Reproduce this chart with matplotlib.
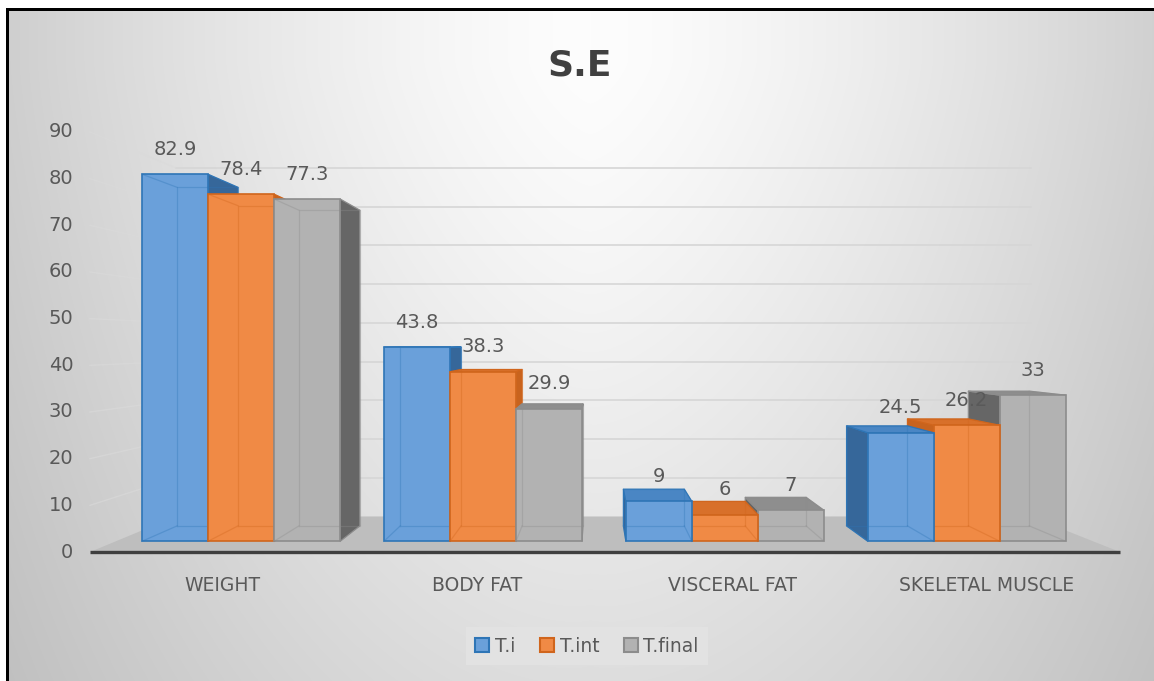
import numpy as np
import matplotlib
matplotlib.use('Agg')
import matplotlib.pyplot as plt
from matplotlib.patches import Polygon, Patch

categories = ['WEIGHT', 'BODY FAT', 'VISCERAL FAT', 'SKELETAL MUSCLE']
series_names = ['T.i', 'T.int', 'T.final']
t_i = [82.9, 43.8, 9, 24.5]
t_int = [78.4, 38.3, 6, 26.2]
t_final = [77.3, 29.9, 7, 33]
y_ticks = [0, 10, 20, 30, 40, 50, 60, 70, 80, 90]

# face colours per series: front, side, top, edge
front_colors = ['#6AA0DA', '#F08A45', '#B2B2B2']
side_colors = ['#36679A', '#C8631E', '#666666']
top_colors = ['#4A86C4', '#D8702A', '#8E8E8E']
edge_colors = ['#2E75B6', '#D0651C', '#8C8C8C']
text_color = '#595959'

W, H = 1154, 681
fig = plt.figure(figsize=(W / 100, H / 100), dpi=100)
fig.patch.set_facecolor('white')

# soft grey gradient behind the chart, with a thin black frame on top/left
bg = fig.add_axes([0, 0, 1, 1])
bg.set_axis_off()
xx, yy = np.meshgrid(np.arange(W), np.arange(H))
dx = np.abs(xx - 590) / 580
dy = np.clip((yy - 60) / 620, 0, None)
shade = (253 - 46 * dx ** 1.4 - 32 * dy ** 1.3 * (1 - 0.55 * dx)) / 255
shade[(xx < 6) | (yy < 8)] = 1.0
shade[((xx >= 6) & (xx < 9) & (yy >= 8)) | ((yy >= 8) & (yy < 11) & (xx >= 6))] = 0.0
bg.imshow(np.dstack([shade] * 3), extent=(0, W, H, 0), aspect='auto')
bg.set_xlim(0, W)
bg.set_ylim(H, 0)

# main axes: x in category units, y in value units on the front plane
PX_CAT, X0_PX = 255, 222
Y0_PX, PX_VAL = 552, 4.667
ax = fig.add_axes([0, 0, 1, 1])
ax.set_axis_off()
ax.patch.set_alpha(0)
ax.set_xlim(-X0_PX / PX_CAT, (W - X0_PX) / PX_CAT)
ax.set_ylim((Y0_PX - H) / PX_VAL, Y0_PX / PX_VAL)

# perspective: vanishing point and depth scale factors
VX = (594 - X0_PX) / PX_CAT
VY = (Y0_PX - 343) / PX_VAL
S_WALL = 0.83
S_BAR_F = 0.9486
S_BAR_B = 0.875
FLOOR_L = (90 - X0_PX) / PX_CAT
FLOOR_R = (1120 - X0_PX) / PX_CAT
BAR_W = 0.273


def proj(x, v, s):
    return VX + (x - VX) * s, VY + (v - VY) * s


# back wall and side wall gridlines
for v in y_ticks[1:]:
    bl = proj(FLOOR_L, v, S_WALL)
    br = proj(FLOOR_R, v, S_WALL)
    fl = proj(FLOOR_L, v, 1)
    ax.plot([bl[0], br[0]], [bl[1], br[1]], color='#D6D6D6', lw=1.2, zorder=1)
    ax.plot([fl[0], bl[0]], [fl[1], bl[1]], color='#DADADA', lw=1.0, alpha=0.6, zorder=1)

# floor
floor = Polygon([proj(FLOOR_L, 0, 1), proj(FLOOR_R, 0, 1),
                 proj(FLOOR_R, 0, S_WALL), proj(FLOOR_L, 0, S_WALL)],
                closed=True, facecolor='#BEBEBE', edgecolor='none', zorder=2)
ax.add_patch(floor)
ax.plot([FLOOR_L, FLOOR_R], [0, 0], color='#3F3F3F', lw=2.4, zorder=3,
        solid_capstyle='butt')

# y tick labels on the front left edge
for v in y_ticks:
    ax.annotate(str(v), xy=proj(FLOOR_L, v, 1), xytext=(-12, 0),
                textcoords='offset points', ha='right', va='center',
                fontsize=14, color=text_color)

# category labels
for i, name in enumerate(categories):
    ax.annotate(name, xy=proj(i, 0, 1), xytext=(0, -24),
                textcoords='offset points', ha='center', va='center',
                fontsize=13.5, color=text_color)

# 3D columns, drawn from the farthest (relative to vanishing point) inwards
bars = []
for j, vals in enumerate([t_i, t_int, t_final]):
    for i, v in enumerate(vals):
        xc = i + (j - 1) * BAR_W
        bars.append((abs(xc - VX), xc, j, v))
bars.sort(key=lambda b: -b[0])

z = 4
for _, xc, j, v in bars:
    xl, xr = xc - BAR_W / 2, xc + BAR_W / 2
    sf, sb = S_BAR_F, S_BAR_B
    if xr < VX:
        side = [proj(xr, 0, sf), proj(xr, v, sf), proj(xr, v, sb), proj(xr, 0, sb)]
        ax.add_patch(Polygon(side, closed=True, facecolor=side_colors[j],
                             edgecolor=edge_colors[j], lw=0.8, zorder=z))
    if xl > VX:
        side = [proj(xl, 0, sf), proj(xl, v, sf), proj(xl, v, sb), proj(xl, 0, sb)]
        ax.add_patch(Polygon(side, closed=True, facecolor=side_colors[j],
                             edgecolor=edge_colors[j], lw=0.8, zorder=z))
    if v < VY:
        top = [proj(xl, v, sf), proj(xr, v, sf), proj(xr, v, sb), proj(xl, v, sb)]
        ax.add_patch(Polygon(top, closed=True, facecolor=top_colors[j],
                             edgecolor=edge_colors[j], lw=0.8, zorder=z + 0.1))
    cx, y_bot = proj(xc, 0, sf)
    _, y_top = proj(xc, v, sf)
    ax.bar(cx, y_top - y_bot, width=BAR_W * sf, bottom=y_bot,
           color=front_colors[j], edgecolor=edge_colors[j], lw=1.2,
           zorder=z + 0.2)
    # hidden back edges seen through the translucent front face
    b = [proj(xl, 0, sb), proj(xr, 0, sb), proj(xr, v, sb), proj(xl, v, sb)]
    f = [proj(xl, 0, sf), proj(xr, 0, sf), proj(xr, v, sf), proj(xl, v, sf)]
    bx = [p[0] for p in b] + [b[0][0]]
    by = [p[1] for p in b] + [b[0][1]]
    ax.plot(bx, by, color=edge_colors[j], lw=0.9, alpha=0.35, zorder=z + 0.3)
    for p, q in zip(f, b):
        ax.plot([p[0], q[0]], [p[1], q[1]], color=edge_colors[j], lw=0.9,
                alpha=0.35, zorder=z + 0.3)
    ax.annotate(f'{v:g}', xy=(cx, y_top), xytext=(0, 18),
                textcoords='offset points', ha='center', va='center',
                fontsize=14, color=text_color, zorder=20)
    z += 1

fig.text(580 / W, 1 - 65 / H, 'S.E', ha='center', va='center',
         fontsize=26, fontweight='bold', color='#404040')

handles = [Patch(facecolor=front_colors[k], edgecolor=edge_colors[k], lw=1.5,
                 label=series_names[k]) for k in range(3)]
leg = fig.legend(handles=handles, loc='center', ncol=3,
                 bbox_to_anchor=(587 / W, 1 - 646 / H), frameon=True,
                 facecolor='#E2E2E2', edgecolor='none', fancybox=False,
                 handlelength=0.75, handleheight=0.75, handletextpad=0.3,
                 columnspacing=1.3, fontsize=13.5, borderpad=0.5,
                 borderaxespad=0, framealpha=1)
for t in leg.get_texts():
    t.set_color(text_color)

fig.savefig('out.png', dpi=100)
